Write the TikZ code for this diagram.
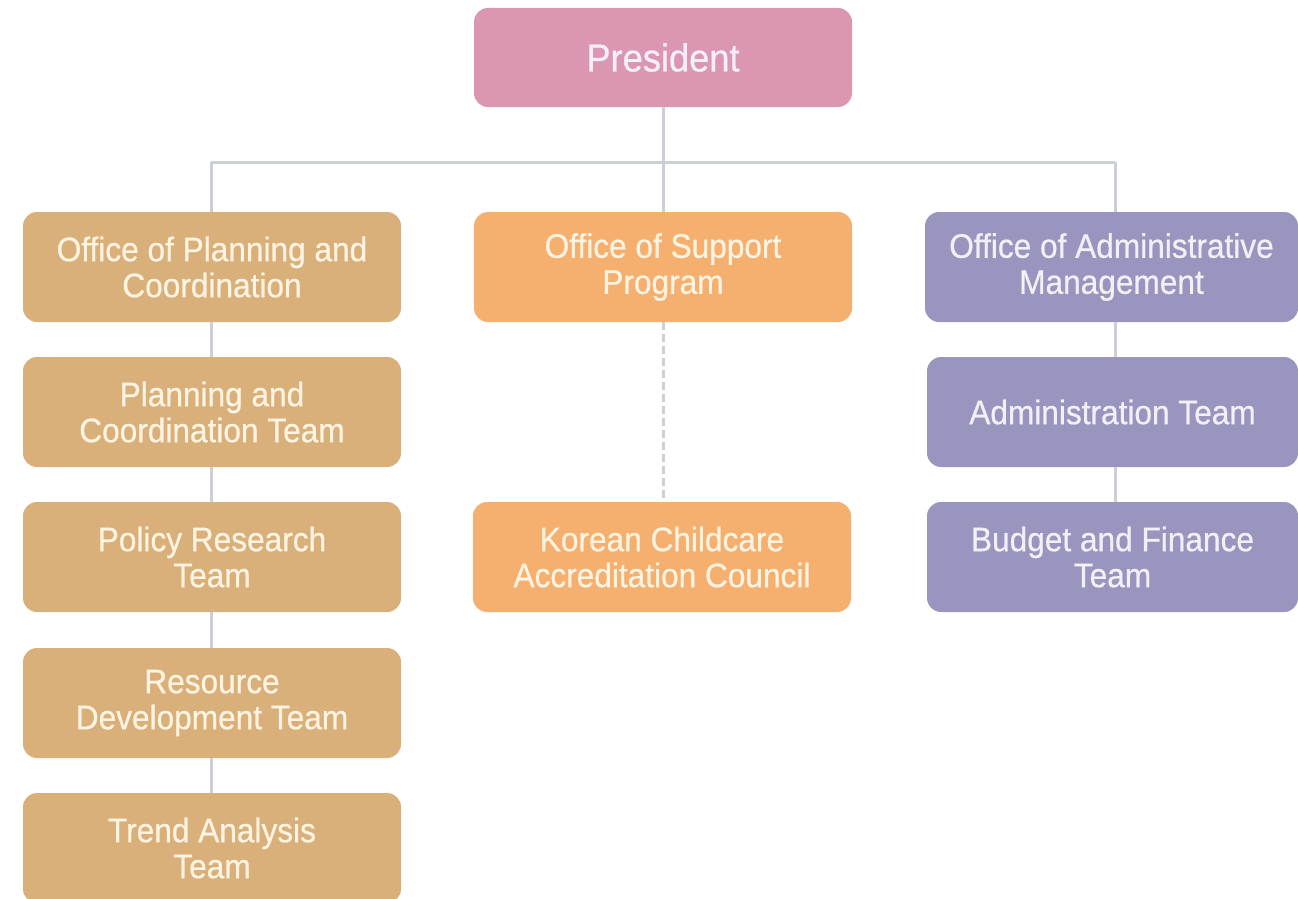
\documentclass[tikz,border=0pt]{standalone}
\usepackage{fontspec}
\setmainfont{Liberation Sans}[FakeStretch=0.93,FakeBold=0.6]
\definecolor{pinkbox}{HTML}{DB96B2}
\definecolor{tanbox}{HTML}{D9B07A}
\definecolor{orangebox}{HTML}{F5AF6E}
\definecolor{purplebox}{HTML}{9A95BE}
\definecolor{creamtxt}{HTML}{FFF3E2}
\definecolor{whitetxt}{HTML}{F2F0F6}
\definecolor{linegray}{HTML}{CCD0D6}
\begin{document}
\begin{tikzpicture}[x=1pt,y=-1pt,
  box/.style={rounded corners=14pt, minimum width=378pt, minimum height=110pt,
    inner sep=0pt, align=center, text=creamtxt,
    font=\fontsize{34}{36}\selectfont},
  tanstyle/.style={box, fill=tanbox},
  orangestyle/.style={box, fill=orangebox},
  purplestyle/.style={box, fill=purplebox, minimum width=373pt, text=whitetxt},
  conn/.style={draw=linegray, line width=3pt},
  dconn/.style={conn, dash pattern=on 8pt off 4pt}]
\fill[white] (0,0) rectangle (1298,899);
\clip (0,0) rectangle (1298,899);
% top
\node[box, fill=pinkbox, minimum height=99pt, text=whitetxt, font=\fontsize{39}{40}\selectfont] (pres) at (663,57.5) {President};
% left column
\node[tanstyle] (opc) at (212,267) {Office of Planning and\\Coordination};
\node[tanstyle] (pct) at (212,412) {Planning and\\Coordination Team};
\node[tanstyle] (prt) at (212,557) {Policy Research\\Team};
\node[tanstyle] (rdt) at (212,703) {Resource\\Development Team};
\node[tanstyle] (tat) at (212,848) {Trend Analysis\\Team};
% middle column
\node[orangestyle] (osp) at (663,267) {Office of Support\\Program};
\node[orangestyle] (kcac) at (662,557) {Korean Childcare\\Accreditation Council};
% right column
\node[purplestyle] (oam) at (1111.5,267) {Office of Administrative\\Management};
\node[purplestyle, minimum width=371pt] (adt) at (1112.5,412) {Administration Team};
\node[purplestyle, minimum width=371pt] (bft) at (1112.5,557) {Budget and Finance\\Team};
% connectors
\coordinate (hl) at (211,162);
\coordinate (hr) at (1115,162);
\draw[conn] (pres.south) -- (osp.north);
\draw[conn] (hl) -- (hr);
\draw[conn] (hl) -- (hl |- opc.north);
\draw[conn] (hr) -- (hr |- oam.north);
\draw[conn] (opc.south -| hl) -- (pct.north -| hl);
\draw[conn] (pct.south -| hl) -- (prt.north -| hl);
\draw[conn] (prt.south -| hl) -- (rdt.north -| hl);
\draw[conn] (rdt.south -| hl) -- (tat.north -| hl);
\draw[conn] (oam.south -| hr) -- (adt.north -| hr);
\draw[conn] (adt.south -| hr) -- (bft.north -| hr);
\draw[dconn] (osp.south) -- (kcac.north -| osp.south);
\end{tikzpicture}
\end{document}
